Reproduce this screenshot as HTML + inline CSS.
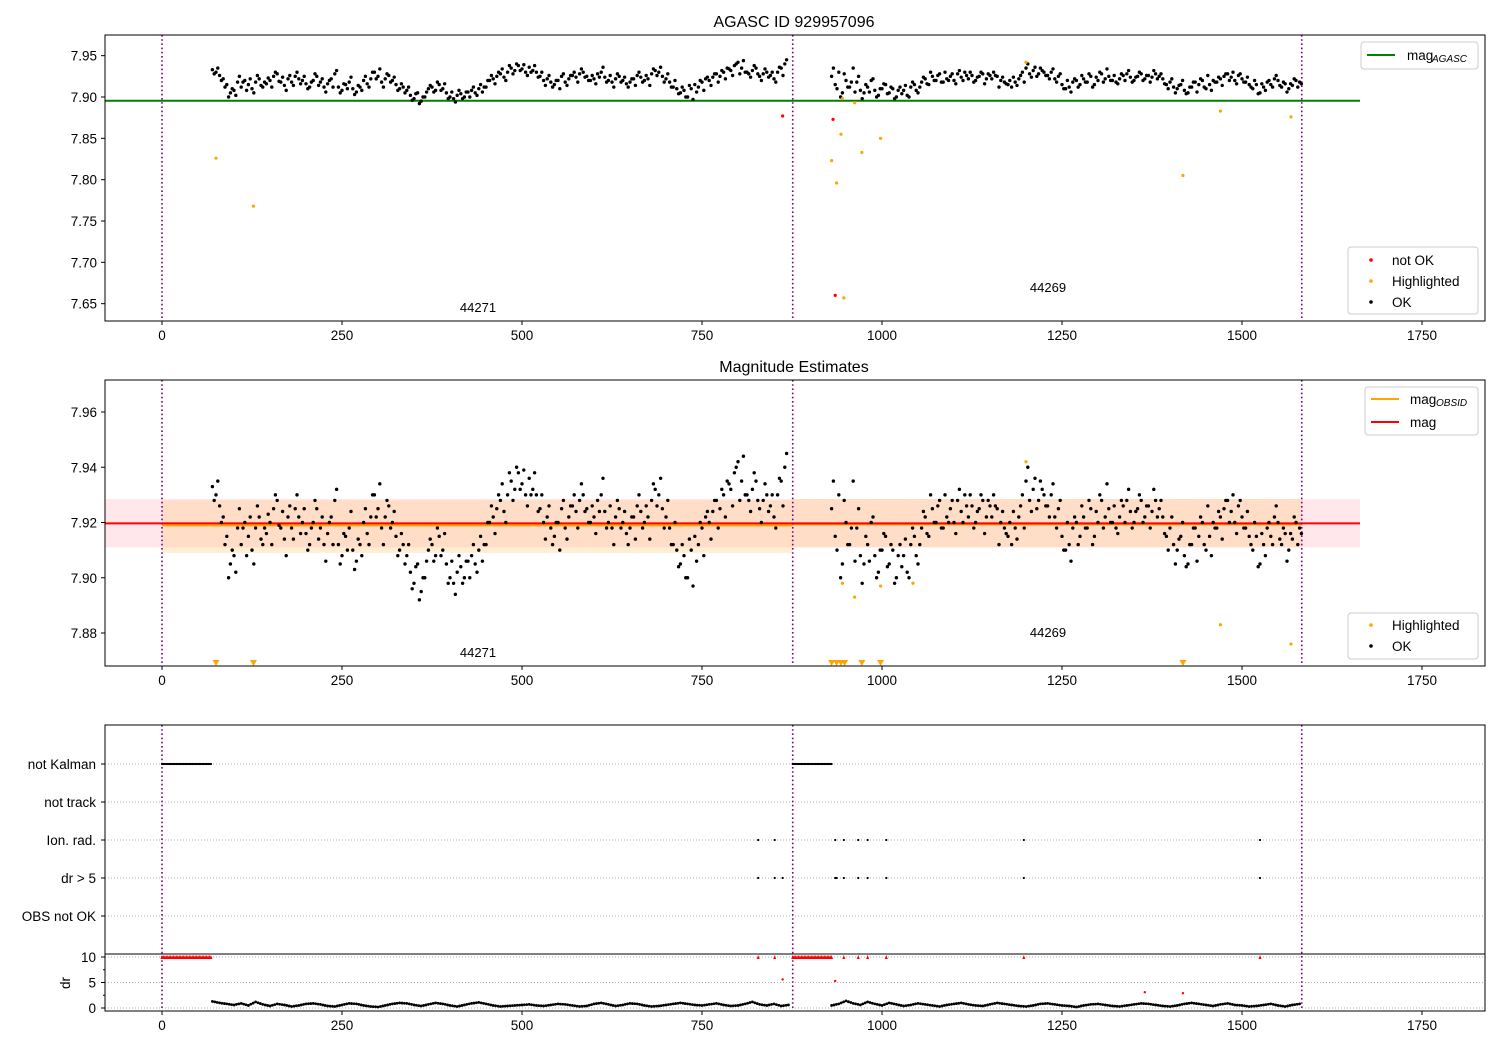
<!DOCTYPE html>
<html><head><meta charset="utf-8"><style>
html,body{margin:0;padding:0;background:#fff;}
svg{display:block;font-family:"Liberation Sans","DejaVu Sans",sans-serif;}
</style></head><body>
<svg id="fig" width="1500" height="1050" viewBox="0 0 1500 1050" xmlns="http://www.w3.org/2000/svg">
<rect width="1500" height="1050" fill="#fff"/>
<g id="p1"></g>
<g id="p2"></g>
<g id="p3"></g>
</svg>
<script>
// ---- data ----
const obs1Start = 70, obs2Start = 930, step = 5;
const obs1Mag = [7.933,7.930,7.926,7.922,7.915,7.905,7.908,7.918,7.912,7.920,7.915,7.910,7.918,7.922,7.912,7.916,7.920,7.925,7.928,7.918,7.914,7.922,7.918,7.925,7.922,7.920,7.916,7.912,7.920,7.925,7.918,7.912,7.916,7.922,7.928,7.912,7.908,7.915,7.918,7.910,7.906,7.912,7.920,7.916,7.922,7.930,7.925,7.918,7.922,7.926,7.920,7.915,7.910,7.912,7.908,7.902,7.898,7.905,7.895,7.900,7.910,7.912,7.908,7.915,7.910,7.905,7.900,7.898,7.902,7.904,7.900,7.906,7.908,7.905,7.910,7.906,7.912,7.920,7.922,7.925,7.928,7.924,7.930,7.935,7.932,7.938,7.934,7.930,7.936,7.932,7.930,7.925,7.920,7.922,7.918,7.915,7.920,7.925,7.918,7.922,7.926,7.924,7.928,7.930,7.925,7.920,7.922,7.928,7.930,7.924,7.920,7.918,7.922,7.925,7.920,7.916,7.918,7.922,7.926,7.924,7.920,7.922,7.928,7.932,7.930,7.925,7.922,7.918,7.912,7.910,7.905,7.908,7.900,7.910,7.915,7.912,7.918,7.922,7.920,7.924,7.928,7.925,7.930,7.935,7.932,7.938,7.942,7.935,7.930,7.928,7.932,7.935,7.925,7.928,7.930,7.926,7.922,7.930,7.935,7.940];
const obs1MagB = [7.928,7.935,7.920,7.912,7.900,7.910,7.902,7.925,7.918,7.908,7.922,7.905,7.926,7.914,7.918,7.923,7.912,7.930,7.919,7.924,7.908,7.926,7.914,7.930,7.916,7.925,7.910,7.918,7.928,7.914,7.922,7.906,7.920,7.912,7.932,7.905,7.916,7.910,7.924,7.903,7.914,7.908,7.925,7.912,7.930,7.922,7.934,7.912,7.928,7.918,7.924,7.908,7.916,7.905,7.912,7.896,7.904,7.892,7.900,7.906,7.914,7.906,7.918,7.908,7.916,7.898,7.906,7.894,7.908,7.898,7.906,7.900,7.912,7.902,7.915,7.912,7.920,7.926,7.916,7.930,7.934,7.920,7.938,7.928,7.940,7.932,7.939,7.926,7.930,7.938,7.924,7.930,7.914,7.926,7.912,7.920,7.910,7.928,7.914,7.926,7.930,7.918,7.934,7.924,7.920,7.926,7.916,7.924,7.936,7.918,7.926,7.912,7.928,7.918,7.924,7.912,7.922,7.914,7.930,7.918,7.926,7.914,7.934,7.926,7.936,7.918,7.928,7.912,7.920,7.904,7.912,7.900,7.914,7.897,7.906,7.920,7.908,7.924,7.914,7.928,7.918,7.932,7.922,7.934,7.926,7.940,7.928,7.944,7.930,7.924,7.938,7.928,7.920,7.934,7.924,7.930,7.918,7.936,7.926,7.945];
const obs2Mag = [7.925,7.915,7.930,7.905,7.920,7.912,7.935,7.918,7.908,7.905,7.912,7.920,7.908,7.902,7.910,7.915,7.905,7.910,7.900,7.912,7.908,7.902,7.912,7.915,7.905,7.918,7.922,7.915,7.925,7.920,7.928,7.918,7.922,7.925,7.920,7.928,7.924,7.930,7.922,7.926,7.920,7.925,7.928,7.922,7.926,7.930,7.925,7.920,7.918,7.915,7.912,7.918,7.922,7.930,7.935,7.928,7.932,7.925,7.935,7.930,7.926,7.930,7.922,7.925,7.915,7.910,7.912,7.918,7.920,7.915,7.922,7.918,7.925,7.915,7.920,7.928,7.922,7.925,7.920,7.918,7.922,7.926,7.928,7.924,7.920,7.925,7.928,7.922,7.926,7.924,7.928,7.925,7.922,7.915,7.918,7.912,7.910,7.915,7.908,7.905,7.912,7.918,7.915,7.920,7.910,7.915,7.920,7.918,7.922,7.925,7.928,7.924,7.920,7.926,7.922,7.918,7.915,7.910,7.915,7.905,7.912,7.918,7.915,7.922,7.920,7.912,7.916,7.910,7.914,7.920,7.918];
const obs2MagB = [7.935,7.910,7.900,7.928,7.912,7.918,7.906,7.925,7.898,7.915,7.906,7.922,7.900,7.910,7.916,7.904,7.912,7.898,7.908,7.904,7.914,7.900,7.918,7.908,7.912,7.924,7.916,7.930,7.920,7.926,7.918,7.930,7.920,7.928,7.916,7.932,7.920,7.926,7.930,7.918,7.924,7.930,7.916,7.928,7.922,7.926,7.912,7.924,7.916,7.920,7.924,7.914,7.926,7.918,7.940,7.924,7.936,7.928,7.932,7.926,7.922,7.934,7.918,7.928,7.910,7.920,7.906,7.922,7.912,7.926,7.918,7.928,7.912,7.924,7.930,7.918,7.934,7.920,7.926,7.916,7.928,7.920,7.932,7.918,7.924,7.930,7.920,7.926,7.918,7.932,7.922,7.928,7.916,7.910,7.922,7.905,7.914,7.920,7.904,7.912,7.918,7.906,7.922,7.912,7.926,7.908,7.918,7.924,7.914,7.928,7.920,7.930,7.916,7.928,7.918,7.924,7.912,7.920,7.904,7.916,7.908,7.920,7.912,7.926,7.914,7.918,7.906,7.916,7.922,7.912,7.916];
const hl1X = [75,127,930,937,943,947,962,972,998,1418,1470,1568,1200,945];
const hl1Y = [7.826,7.768,7.823,7.796,7.855,7.657,7.893,7.833,7.850,7.805,7.883,7.876,7.942,7.898];
const notOkX = [862,932,935];
const notOkY = [7.877,7.873,7.660];
const hl2X = [945,962,998,1043,1200,1470,1568];
const hl2Y = [7.898,7.893,7.897,7.898,7.942,7.883,7.876];
const offscaleX = [75,127,930,937,943,948,972,998,1418];
const obsLines = [0,876,1583];
const agascMag = 7.8955;
const magMean = 7.9197, magLo = 7.911, magHi = 7.9285;
const obsMean = [7.9193,7.9197], obsLo = [7.909,7.911], obsHi = [7.928,7.9285];
const flagNames = ["not Kalman","not track","Ion. rad.","dr > 5","OBS not OK"];
const notKalmanX = [0,2,4,6,8,10,12,14,16,18,20,22,24,26,28,30,32,34,36,38,40,42,44,46,48,50,52,54,56,58,60,62,64,66,68,876,878,880,882,884,886,888,890,892,894,896,898,900,902,904,906,908,910,912,914,916,918,920,922,924,926,928,930];
const ionRadX = [828,851,935,947,967,980,1006,1197,1525];
const drGt5X = [828,851,862,935,937,947,967,980,1006,1197,1525];
const drRedX = [828,851,947,967,980,1006,1197,1525];
const drRedMidX = [862,935,1365,1418], drRedMidY = [5.6,5.3,3.1,2.9];
const dr1Start = 70, dr2Start = 930, drStep = 10;
const dr1 = [1.3,1.0,0.8,0.6,0.9,0.5,1.2,0.7,0.4,0.8,0.6,0.3,0.5,0.8,0.9,0.7,0.4,0.3,0.6,0.9,0.8,0.5,0.3,0.2,0.5,0.8,1.0,0.9,0.6,0.4,0.7,1.0,0.8,0.5,0.3,0.6,0.9,1.1,0.8,0.5,0.3,0.4,0.5,0.6,0.7,0.5,0.4,0.6,0.8,0.7,0.5,0.3,0.4,0.8,1.0,0.7,0.4,0.6,0.9,0.8,0.5,0.3,0.4,0.6,0.8,1.0,0.8,0.6,0.5,0.7,0.9,0.6,0.4,0.5,0.8,1.2,0.7,0.5,0.8,0.4,0.6];
const dr2 = [0.5,0.8,1.4,0.9,0.6,1.2,0.8,0.5,1.0,0.7,0.4,0.6,0.9,0.7,0.5,0.3,0.6,0.8,1.0,0.7,0.5,0.4,0.7,1.0,0.8,0.6,0.4,0.3,0.5,0.8,0.9,0.7,0.5,0.4,0.2,0.5,0.7,0.8,0.6,0.4,0.3,0.5,0.7,0.9,0.8,0.6,0.4,0.3,0.5,0.8,1.0,0.8,0.6,0.4,0.7,0.9,0.6,0.5,0.3,0.4,0.6,0.8,0.5,0.3,0.6,0.8];
const xTicks = [0,250,500,750,1000,1250,1500,1750];
const y1Ticks = [7.65,7.70,7.75,7.80,7.85,7.90,7.95];
const y2Ticks = [7.88,7.90,7.92,7.94,7.96];
const drTicks = [0,5,10];

// ---- geometry ----
const L=105,R=1485;
const sx = v => 162 + v*0.72;
const sy1 = v => 97 + (7.90 - v)*826.7;
const sy2 = v => 522.5 + (7.92 - v)*2762.5;
const flagY = [764,802,840,878,916];
const sdr = v => 1008 - v*5.1;
const NS="http://www.w3.org/2000/svg";
function el(parent, tag, attrs, text){
  const e=document.createElementNS(NS,tag);
  for(const k in attrs) e.setAttribute(k,attrs[k]);
  if(text!==undefined) e.textContent=text;
  parent.appendChild(e); return e;
}
const p1=document.getElementById('p1'),p2=document.getElementById('p2'),p3=document.getElementById('p3');

function xAxis(g, bottom){
  xTicks.forEach(t=>{
    const x=sx(t);
    el(g,'line',{x1:x,x2:x,y1:bottom,y2:bottom+4,stroke:'#000','stroke-width':1});
    const tx=el(g,'text',{x:x,y:bottom+19,'text-anchor':'middle','font-size':13.5},String(t));
    
    
  });
}
function yTicks(g, ticks, fy, fmt){
  ticks.forEach(t=>{
    const y=fy(t);
    el(g,'line',{x1:L-4,x2:L,y1:y,y2:y,stroke:'#000','stroke-width':1});
    const tx=el(g,'text',{x:L-8,y:y+5,'text-anchor':'end','font-size':13.5},fmt(t));
    
    
  });
}
function vlines(g, top, bottom){
  obsLines.forEach(v=>{
    const l=el(g,'line',{x1:sx(v),x2:sx(v),y1:top,y2:bottom,stroke:'#800080','stroke-width':1.6,'stroke-dasharray':'1.6,2.6'});
    
    
  });
}
function dots(g, xs, ys, fx, fy, color, r, name){
  xs.forEach((x,i)=>{
    const c=el(g,'circle',{cx:fx(x),cy:fy(ys[i]),r:r,fill:color});
    
    
  });
}
function series(g, start, vals, fy){
  vals.forEach((v,i)=>{
    const c=el(g,'circle',{cx:sx(start+i*step),cy:fy(v),r:1.7,fill:'#000'});
    
    
  });
}
function allSeries(g, fy){
  series(g,obs1Start,obs1Mag,fy);
  series(g,obs1Start+2.5,obs1MagB,fy);
  series(g,obs2Start,obs2Mag,fy);
  series(g,obs2Start+2.5,obs2MagB,fy);
}
function frame(g,top,bottom){
  el(g,'rect',{x:L,y:top,width:R-L,height:bottom-top,fill:'none',stroke:'#000','stroke-width':1});
}
function legendBox(g,x,y,w,h){
  el(g,'rect',{x:x,y:y,width:w,height:h,rx:3,fill:'#fff','fill-opacity':0.85,stroke:'#ccc','stroke-width':1});
}

// ---- panel 1 ----
(function(){
  const g=p1;
  el(g,'text',{x:794,y:27,'text-anchor':'middle','font-size':16},'AGASC ID 929957096');
  el(g,'line',{x1:L,x2:1360,y1:sy1(agascMag),y2:sy1(agascMag),stroke:'#008000','stroke-width':2});
  vlines(g,35,321);
  allSeries(g,sy1);
  dots(g,hl1X,hl1Y,sx,sy1,'#ffa500',1.6,'highlighted-point');
  dots(g,notOkX,notOkY,sx,sy1,'#ff0000',1.6,'not-ok-point');
  el(g,'text',{x:478,y:312,'text-anchor':'middle','font-size':13},'44271');
  el(g,'text',{x:1048,y:292,'text-anchor':'middle','font-size':13},'44269');
  frame(g,35,321);
  yTicks(g,y1Ticks,sy1,t=>t.toFixed(2));
  xAxis(g,321);
  const lg=el(g,'g',{});  
  legendBox(lg,1361,42,117,27);
  el(lg,'line',{x1:1367,x2:1395,y1:55,y2:55,stroke:'#008000','stroke-width':2});
  el(lg,'text',{x:1407,y:60,'font-size':13.5},'mag');
  el(lg,'text',{x:1432,y:62,'font-size':10,'font-style':'italic'},'AGASC');
  const lb=el(g,'g',{});  
  legendBox(lb,1348,247,130,67);
  [['#ff0000','not OK'],['#ffa500','Highlighted'],['#000','OK']].forEach((d,i)=>{
    el(lb,'circle',{cx:1371,cy:260+i*21,r:1.8,fill:d[0]});
    el(lb,'text',{x:1392,y:265+i*21,'font-size':13.5},d[1]);
  });
})();

// ---- panel 2 ----
(function(){
  const g=p2;
  el(g,'text',{x:794,y:372,'text-anchor':'middle','font-size':16},'Magnitude Estimates');
  el(g,'rect',{x:L,y:sy2(magHi),width:1360-L,height:sy2(magLo)-sy2(magHi),fill:'#ff9eb0','fill-opacity':0.25});
  [[0,876],[876,1583]].forEach((r,i)=>{
    el(g,'rect',{x:sx(r[0]),y:sy2(obsHi[i]),width:sx(r[1])-sx(r[0]),height:sy2(obsLo[i])-sy2(obsHi[i]),fill:'#ffc870','fill-opacity':0.3});
    el(g,'line',{x1:sx(r[0]),x2:sx(r[1]),y1:sy2(obsMean[i])+1,y2:sy2(obsMean[i])+1,stroke:'#ffa500','stroke-width':2});
  });
  el(g,'line',{x1:L,x2:1360,y1:sy2(magMean),y2:sy2(magMean),stroke:'#ff0000','stroke-width':2});
  vlines(g,380,666);
  allSeries(g,sy2);
  dots(g,hl2X,hl2Y,sx,sy2,'#ffa500',1.6,'highlighted-point');
  offscaleX.forEach(x=>{
    const t=el(g,'path',{d:`M${sx(x)-3.5},660 L${sx(x)+3.5},660 L${sx(x)},666 Z`,fill:'#ffa500'});
    
    
  });
  el(g,'text',{x:478,y:657,'text-anchor':'middle','font-size':13},'44271');
  el(g,'text',{x:1048,y:637,'text-anchor':'middle','font-size':13},'44269');
  frame(g,380,666);
  yTicks(g,y2Ticks,sy2,t=>t.toFixed(2));
  xAxis(g,666);
  const lg=el(g,'g',{});  
  legendBox(lg,1365,387,113,48);
  el(lg,'line',{x1:1371,x2:1399,y1:399,y2:399,stroke:'#ffa500','stroke-width':2});
  el(lg,'text',{x:1410,y:404,'font-size':13.5},'mag');
  el(lg,'text',{x:1436,y:406,'font-size':10,'font-style':'italic'},'OBSID');
  el(lg,'line',{x1:1371,x2:1399,y1:422,y2:422,stroke:'#ff0000','stroke-width':2});
  el(lg,'text',{x:1410,y:427,'font-size':13.5},'mag');
  const lb=el(g,'g',{});  
  legendBox(lb,1348,613,130,46);
  [['#ffa500','Highlighted'],['#000','OK']].forEach((d,i)=>{
    el(lb,'circle',{cx:1371,cy:625+i*21,r:1.8,fill:d[0]});
    el(lb,'text',{x:1392,y:630+i*21,'font-size':13.5},d[1]);
  });
})();

// ---- panel 3 ----
(function(){
  const g=p3;
  flagY.forEach((y,i)=>{
    el(g,'line',{x1:L,x2:R,y1:y,y2:y,stroke:'#b0b0b0','stroke-width':1,'stroke-dasharray':'1,2'});
    el(g,'line',{x1:L-4,x2:L,y1:y,y2:y,stroke:'#000'});
    const t=el(g,'text',{x:L-9,y:y+5,'text-anchor':'end','font-size':13.5},flagNames[i]);
    
    
  });
  drTicks.forEach(t=>{
    el(g,'line',{x1:L,x2:R,y1:sdr(t),y2:sdr(t),stroke:'#b0b0b0','stroke-width':1,'stroke-dasharray':'1,2'});
    el(g,'line',{x1:L-4,x2:L,y1:sdr(t),y2:sdr(t),stroke:'#000'});
    const tx=el(g,'text',{x:L-9,y:sdr(t)+5,'text-anchor':'end','font-size':13.5},String(t));
    
    
  });
  [2.5,7.5].forEach(t=>el(g,'line',{x1:L-2,x2:L,y1:sdr(t),y2:sdr(t),stroke:'#000'}));
  el(g,'text',{x:70,y:983,'text-anchor':'middle','font-size':13.5,transform:'rotate(-90 70 983)'},'dr');
  vlines(g,725,1011);
  notKalmanX.forEach(x=>{
    const c=el(g,'circle',{cx:sx(x),cy:flagY[0],r:1.1,fill:'#000'});
    
    
  });
  ionRadX.forEach(x=>{
    const c=el(g,'circle',{cx:sx(x),cy:flagY[2],r:1.1,fill:'#000'});
    
    
  });
  drGt5X.forEach(x=>{
    const c=el(g,'circle',{cx:sx(x),cy:flagY[3],r:1.1,fill:'#000'});
    
    
  });
  notKalmanX.concat(drRedX).forEach(x=>{
    const t=el(g,'path',{d:`M${sx(x)-1.5},${sdr(10)+2} L${sx(x)+1.5},${sdr(10)+2} L${sx(x)},${sdr(10)-2} Z`,fill:'#ff0000'});
    
    
  });
  dots(g,drRedMidX,drRedMidY,sx,sdr,'#ff0000',1.2,'dr-high-point');
  [[dr1Start,dr1],[dr2Start,dr2]].forEach(([s,arr])=>{
    arr.forEach((v,i)=>{
      for(let k=0;k<3;k++){
        const nx=(i+k/3);
        if(i===arr.length-1 && k>0) break;
        const vv = k===0?v: v+(arr[Math.min(i+1,arr.length-1)]-v)*k/3;
        const c=el(g,'circle',{cx:sx(s+nx*drStep),cy:sdr(vv),r:1.4,fill:'#000'});
        
        
      }
    });
  });
  el(g,'line',{x1:L,x2:R,y1:954,y2:954,stroke:'#000','stroke-width':1});
  frame(g,725,1011);
  xAxis(g,1011);
})();
</script>
</body></html>
